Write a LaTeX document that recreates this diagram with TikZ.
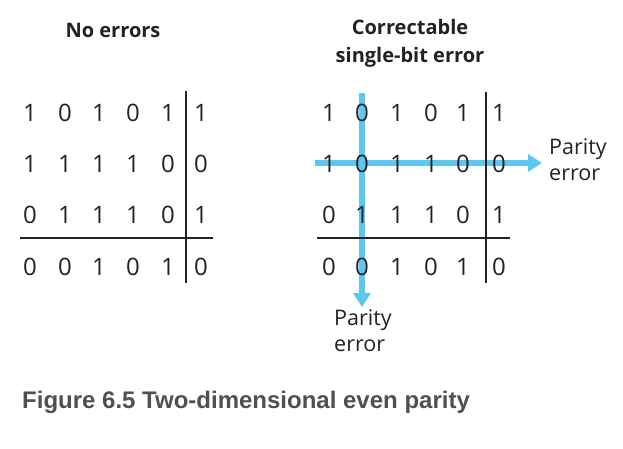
\documentclass[tikz,border=0pt]{standalone}
\usepackage{fontspec}
\setmainfont{Open Sans}
\newfontfamily\capfont{Liberation Sans}
\usetikzlibrary{arrows.meta}
\definecolor{arrowblue}{HTML}{5BC8F0}
\definecolor{capgray}{HTML}{505050}
\definecolor{inkgray}{HTML}{222222}
\begin{document}
\begin{tikzpicture}[x=1pt,y=-1pt,
  bit/.style={font=\fontsize{24}{24}\selectfont, text=inkgray, inner sep=0pt, anchor=center},
  title/.style={font=\fontsize{20}{28}\selectfont\bfseries, text=inkgray, align=center, inner sep=0pt},
  label/.style={font=\fontsize{21.5}{26}\selectfont, text=inkgray, align=left, inner sep=0pt},
  rule/.style={draw=inkgray, line width=1.2pt},
  errarrow/.style={draw=arrowblue, line width=6pt, -{Triangle[width=17pt,length=14pt]}},
  caption/.style={font=\capfont\fontsize{24}{24}\selectfont\bfseries, text=capgray, inner sep=0pt, anchor=west}]
\useasboundingbox (0,0) rectangle (623,448);
\fill[white] (0,0) rectangle (623,448);

% titles
\node[title] (t1) at (113,30) {No errors};
\node[title] (t2) at (410,43) {Correctable\\single-bit error};

% error arrows (behind digits)
\coordinate (hs) at (315,163);
\coordinate (he) at (542,163);
\coordinate (vs) at (362,93);
\coordinate (ve) at (362,307);
\draw[errarrow] (hs) -- (he);
\draw[errarrow] (vs) -- (ve);

% left matrix
\foreach \row [count=\r] in {{1,0,1,0,1,1},{1,1,1,1,0,0},{0,1,1,1,0,1},{0,0,1,0,1,0}}{
  \foreach \b [count=\c] in \row {
    \pgfmathsetmacro{\xx}{{30,65,99,133,168,201}[\c-1]}
    \pgfmathsetmacro{\yy}{{113,164,215,267}[\r-1]}
    \node[bit] (l-\r-\c) at (\xx,\yy) {\b};
  }
}
% right matrix
\foreach \row [count=\r] in {{1,0,1,0,1,1},{1,0,1,1,0,0},{0,1,1,1,0,1},{0,0,1,0,1,0}}{
  \foreach \b [count=\c] in \row {
    \pgfmathsetmacro{\xx}{{329,362,397,431,463,499}[\c-1]}
    \pgfmathsetmacro{\yy}{{113,164,215,267}[\r-1]}
    \node[bit] (r-\r-\c) at (\xx,\yy) {\b};
  }
}

% divider lines
\draw[rule] (186,91) -- (186,283);
\draw[rule] (20,238) -- (213,238);
\draw[rule] (486,92) -- (486,283);
\draw[rule] (317,238) -- (510,238);

% labels
\node[label, anchor=west] (pe1) at (549,160) {Parity\\error};
\node[label, anchor=north west] (pe2) at (334,310) {Parity\\error};

% caption
\node[caption] (cap) at (22,402) {Figure 6.5 Two-dimensional even parity};
\end{tikzpicture}
\end{document}
